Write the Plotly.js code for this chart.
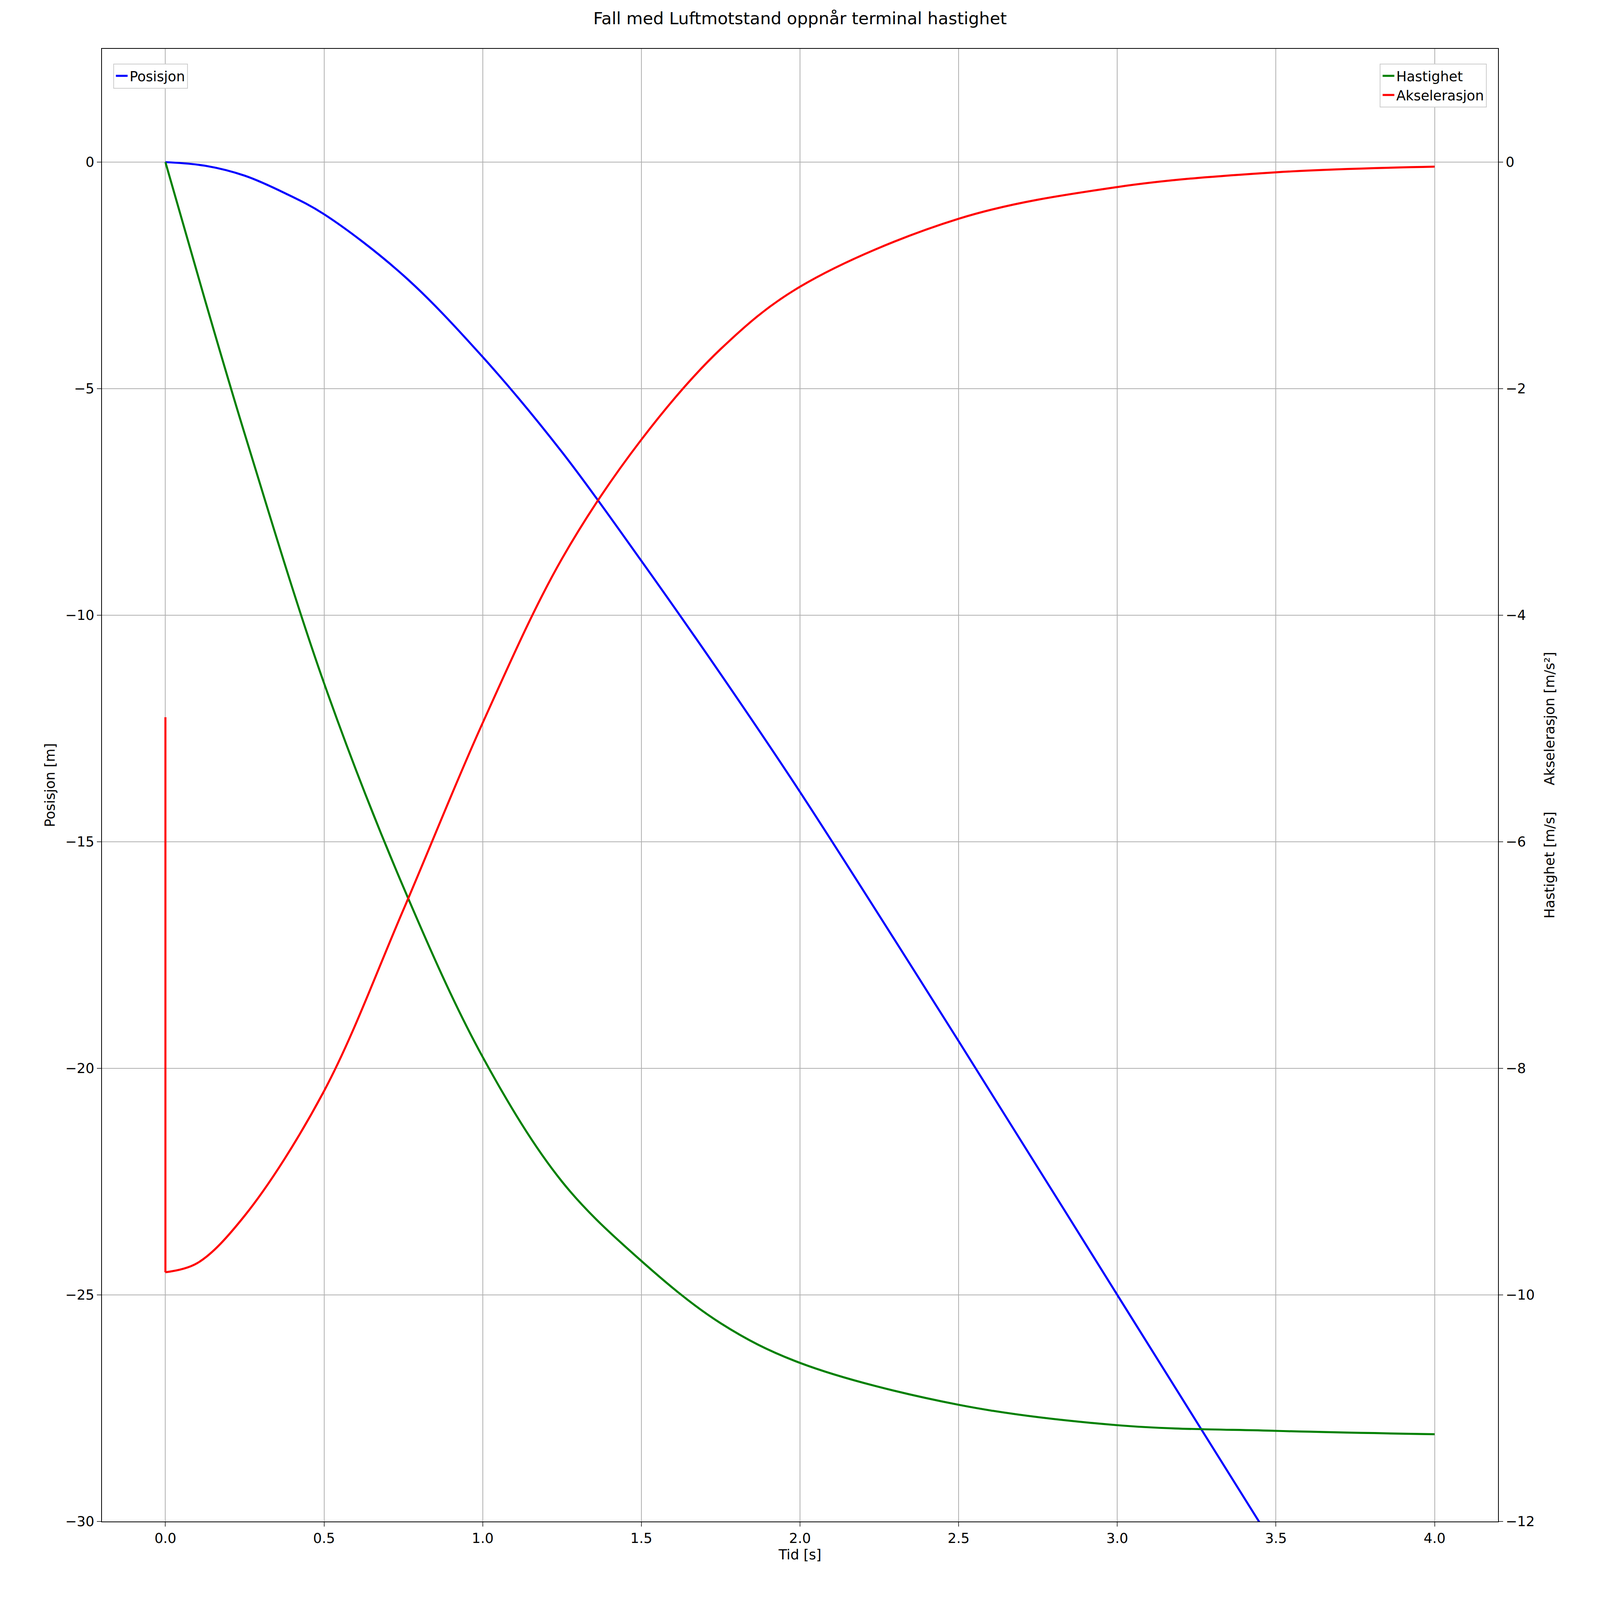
<!DOCTYPE html>
<html><head><meta charset="utf-8">
<script src="https://cdn.plot.ly/plotly-3.0.1.min.js"></script>
<style>html,body{margin:0;padding:0;overflow:hidden}#plot{width:100vw;height:100vh}</style>
</head><body><div id="plot"></div>
<script>
// values
var tPos = [0, 0.125, 0.25, 0.375, 0.5, 0.75, 1.0, 1.25, 1.5, 1.75, 2.0, 2.5, 3.0, 3.5, 4.0];
var posisjon = [0, -0.08, -0.3, -0.68, -1.15, -2.5, -4.3, -6.4, -8.8, -11.3, -13.9, -19.4, -25.0, -30.6, -36.2];

var tVel = [0, 0.125, 0.25, 0.5, 0.75, 1.0, 1.25, 1.5, 1.75, 2.0, 2.5, 3.0, 3.5, 4.0];
var hastighet = [0, -1.22, -2.4, -4.6, -6.4, -7.9, -9.0, -9.7, -10.25, -10.6, -10.97, -11.15, -11.2, -11.23];

var tAccJump = [0, 0];
var accJump = [-4.9, -9.8];
var tAcc = [0, 0.1, 0.25, 0.5, 0.75, 1.0, 1.25, 1.5, 1.75, 2.0, 2.5, 3.0, 3.5, 4.0];
var akselerasjon = [-9.8, -9.72, -9.3, -8.2, -6.6, -4.95, -3.5, -2.45, -1.65, -1.1, -0.5, -0.22, -0.09, -0.04];

var W = window.innerWidth, H = window.innerHeight;
var s = W / 1568;   // reference was read at 1568 px wide
var F = 'DejaVu Sans, sans-serif';
var LW = 2 * s;

var traces = [
  { x: tPos, y: posisjon, name: 'Posisjon', type: 'scatter', mode: 'lines',
    line: { color: 'blue', width: LW, shape: 'spline' }, legend: 'legend' },
  { x: tVel, y: hastighet, name: 'Hastighet', type: 'scatter', mode: 'lines', yaxis: 'y2',
    line: { color: 'green', width: LW, shape: 'spline' }, legend: 'legend2' },
  { x: tAcc, y: akselerasjon, name: 'Akselerasjon', type: 'scatter', mode: 'lines', yaxis: 'y2',
    line: { color: 'red', width: LW, shape: 'spline' }, legend: 'legend2' },
  { x: tAccJump, y: accJump, showlegend: false, type: 'scatter', mode: 'lines', yaxis: 'y2',
    line: { color: 'red', width: LW }, legend: 'legend2' }
];

var axisCommon = {
  showline: true, linecolor: 'black', linewidth: 0.8 * s, ticks: 'outside', ticklen: 4 * s, tickwidth: 0.8 * s,
  tickfont: { family: F, size: 13.5 * s, color: 'black' }, zeroline: false
};

var layout = {
  width: W, height: H,
  paper_bgcolor: 'white', plot_bgcolor: 'white',
  margin: { l: 100 * s, r: 100 * s, t: 48 * s, b: 77 * s },
  font: { family: F, color: 'black' },
  title: { text: 'Fall med Luftmotstand oppnår terminal hastighet', font: { size: 16.5 * s, family: F },
    x: 0.5, xref: 'paper', y: 1 - 18 * s / H, yanchor: 'middle' },
  xaxis: Object.assign({}, axisCommon, {
    range: [-0.2, 4.2], dtick: 0.5, tickformat: '.1f', mirror: true,
    showgrid: true, gridcolor: '#b0b0b0', gridwidth: 0.8 * s,
    title: { text: 'Tid [s]', font: { size: 13.5 * s, family: F }, standoff: 4 * s }
  }),
  yaxis: Object.assign({}, axisCommon, {
    range: [-30, 2.5], tickvals: [0, -5, -10, -15, -20, -25, -30],
    ticktext: ['0', '−5', '−10', '−15', '−20', '−25', '−30'],
    showgrid: true, gridcolor: '#b0b0b0', gridwidth: 0.8 * s,
    title: { text: 'Posisjon [m]', font: { size: 13.5 * s, family: F }, standoff: 6 * s }
  }),
  yaxis2: Object.assign({}, axisCommon, {
    overlaying: 'y', side: 'right', range: [-12, 1],
    tickvals: [0, -2, -4, -6, -8, -10, -12],
    ticktext: ['0', '−2', '−4', '−6', '−8', '−10', '−12'],
    showgrid: false,
    title: { text: 'Hastighet [m/s]      Akselerasjon [m/s²]', font: { size: 13.5 * s, family: F }, standoff: 10 * s }
  }),
  legend: { x: 0.008, y: 0.99, xanchor: 'left', yanchor: 'top', bgcolor: 'white',
    bordercolor: '#cccccc', borderwidth: 0.8 * s, font: { size: 13.5 * s, family: F } },
  legend2: { x: 0.992, y: 0.99, xanchor: 'right', yanchor: 'top', bgcolor: 'white',
    bordercolor: '#cccccc', borderwidth: 0.8 * s, font: { size: 13.5 * s, family: F } },
  showlegend: true
};

Plotly.newPlot('plot', traces, layout, { staticPlot: true });
</script>
</body></html>
